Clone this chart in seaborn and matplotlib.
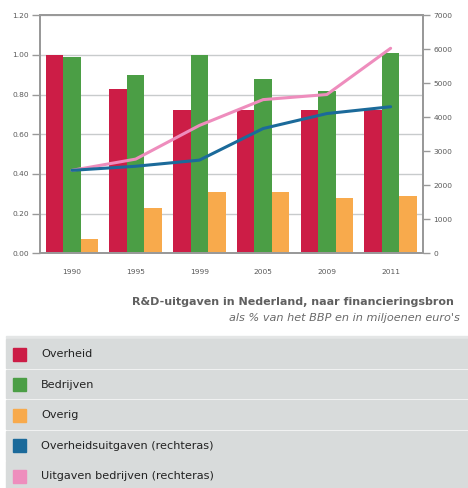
import numpy as np
import pandas as pd
import matplotlib
matplotlib.use("Agg")
import matplotlib.pyplot as plt
import seaborn as sns
from matplotlib.patches import Rectangle
from matplotlib.ticker import FormatStrFormatter, MultipleLocator

years = ["1990", "1995", "1999", "2005", "2009", "2011"]
overheid = [1.00, 0.83, 0.72, 0.72, 0.72, 0.72]
bedrijven = [0.99, 0.90, 1.00, 0.88, 0.82, 1.01]
overig = [0.07, 0.23, 0.31, 0.31, 0.28, 0.29]
overheidsuitgaven = [2440, 2560, 2740, 3670, 4110, 4310]
uitgaven_bedrijven = [2440, 2770, 3760, 4520, 4670, 6030]

bar_names = ["Overheid", "Bedrijven", "Overig"]
line_names = ["Overheidsuitgaven (rechteras)", "Uitgaven bedrijven (rechteras)"]
colors = {"Overheid": "#cc1d46", "Bedrijven": "#4b9e45", "Overig": "#f8aa4c",
          "Overheidsuitgaven (rechteras)": "#1b6a9a",
          "Uitgaven bedrijven (rechteras)": "#ee8dbd"}

title = "R&D-uitgaven in Nederland, naar financieringsbron"
subtitle = "als % van het BBP en in miljoenen euro's"

df = pd.DataFrame({
    "year": years * 3,
    "value": overheid + bedrijven + overig,
    "series": sum([[n] * len(years) for n in bar_names], []),
})

sns.set_style("white")
plt.rcParams["font.family"] = ["DejaVu Sans"]

W, H = 468, 488
fig = plt.figure(figsize=(W / 100, H / 100), dpi=100)
ax = fig.add_axes([40 / W, 1 - 253.3 / H, 382.5 / W, 238 / H])

sns.barplot(data=df, x="year", y="value", hue="series", palette=colors,
            width=0.82, gap=0, ax=ax, legend=False, saturation=1,
            edgecolor="none")

ax.set_ylim(0, 1.2)
ax.set_xlim(-0.5, len(years) - 0.5)
ax.yaxis.set_major_locator(MultipleLocator(0.2))
ax.yaxis.set_major_formatter(FormatStrFormatter("%.2f"))
ax.grid(axis="y", color="#c8cbcc", linewidth=1.0)
ax.set_axisbelow(True)
ax.set_xlabel("")
ax.set_ylabel("")

ax.set_xticks(np.arange(-0.5, len(years)), minor=True)
ax.tick_params(axis="x", which="major", length=0, pad=11, labelsize=5.4,
               labelcolor="#5a5a5a")
ax.tick_params(axis="x", which="minor", length=4, width=1, color="#999999",
               direction="out")
ax.tick_params(axis="y", length=6, width=1, color="#999999", labelsize=5.4,
               labelcolor="#5a5a5a", pad=2)

for s in ax.spines.values():
    s.set_color("#999999")
    s.set_linewidth(1.4)

ax2 = ax.twinx()
xs = np.arange(len(years))
sns.lineplot(x=xs, y=uitgaven_bedrijven, ax=ax2,
             color=colors["Uitgaven bedrijven (rechteras)"], linewidth=2.2)
sns.lineplot(x=xs, y=overheidsuitgaven, ax=ax2,
             color=colors["Overheidsuitgaven (rechteras)"], linewidth=2.2)
ax2.set_ylim(0, 7000)
ax2.yaxis.set_major_locator(MultipleLocator(1000))
ax2.tick_params(axis="y", length=5, width=1, color="#999999", labelsize=5.4,
                labelcolor="#5a5a5a", pad=3)
ax2.set_ylabel("")
for s in ax2.spines.values():
    s.set_color("#999999")
    s.set_linewidth(1.4)
ax2.grid(False)

fig.text(454 / W, 1 - 302 / H, title, ha="right", va="center",
         fontsize=8.05, fontweight="bold", color="#606060")
fig.text(460 / W, 1 - 318 / H, subtitle, ha="right", va="center",
         fontsize=8.1, style="italic", color="#6a6a6a")

# legend rows
fig.patches.append(Rectangle((6 / W, 1 - 338 / H), 462 / W, 2 / H,
                             transform=fig.transFigure, color="#e4e6e6",
                             zorder=0))
all_names = bar_names + line_names
for i, name in enumerate(all_names):
    top = 339 + i * 30.6
    fig.patches.append(Rectangle((6 / W, 1 - (top + 28.8) / H), 462 / W,
                                 28.8 / H, transform=fig.transFigure,
                                 color="#d8dbdb", zorder=0))
    cy = top + 15
    fig.patches.append(Rectangle((12.5 / W, 1 - (cy + 6.5) / H), 13 / W,
                                 13 / H, transform=fig.transFigure,
                                 color=colors[name], zorder=1))
    fig.text(41 / W, 1 - cy / H, name, ha="left", va="center",
             fontsize=8.15, color="#222222")

fig.savefig("out.png", dpi=100)
